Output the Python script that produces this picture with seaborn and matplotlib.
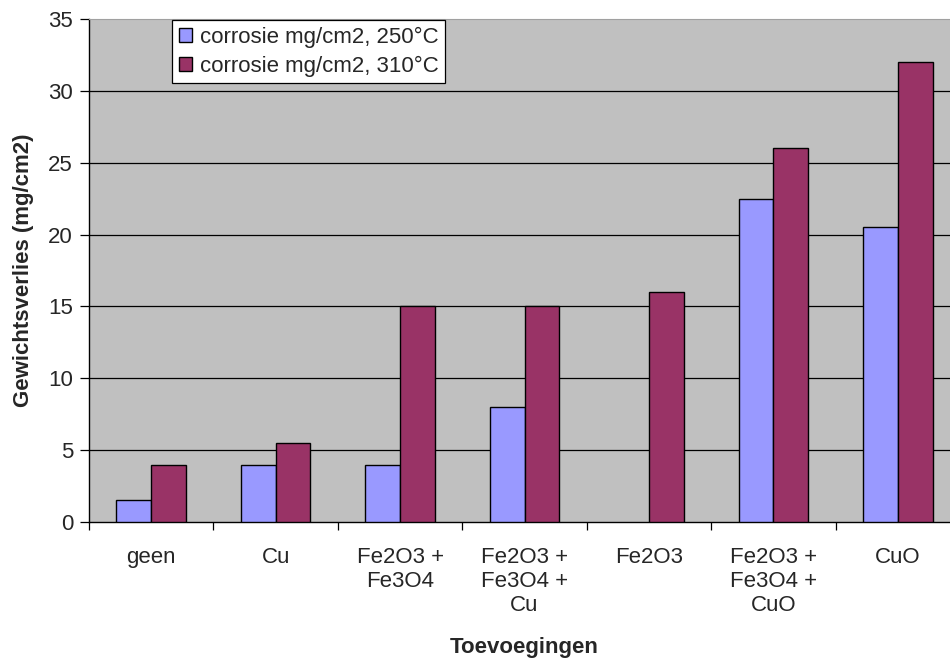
import pandas as pd
import numpy as np
import matplotlib
matplotlib.use("Agg")
import matplotlib.pyplot as plt
import seaborn as sns

# data
categories = ["geen", "Cu", "Fe2O3 +\nFe3O4", "Fe2O3 +\nFe3O4 +\nCu", "Fe2O3",
              "Fe2O3 +\nFe3O4 +\nCuO", "CuO"]
series_names = ["corrosie mg/cm2, 250°C", "corrosie mg/cm2, 310°C"]
vals_250 = [1.5, 4.0, 4.0, 8.0, np.nan, 22.5, 20.5]
vals_310 = [4.0, 5.5, 15.0, 15.0, 16.0, 26.0, 32.0]
y_ticks = [0, 5, 10, 15, 20, 25, 30, 35]

df = pd.DataFrame({
    "Toevoeging": categories * 2,
    "Serie": [series_names[0]] * len(categories) + [series_names[1]] * len(categories),
    "Waarde": vals_250 + vals_310,
})

sns.set_style("white")
plt.rcParams["font.family"] = ["Liberation Sans", "DejaVu Sans"]
fs = 16

fig = plt.figure(figsize=(9.5, 6.63), dpi=100)
ax = fig.add_axes([89 / 950, (663 - 522) / 663, 871 / 950, 503 / 663])
ax.set_facecolor("#C0C0C0")

palette = {series_names[0]: "#9999FF", series_names[1]: "#993366"}
sns.barplot(data=df, x="Toevoeging", y="Waarde", hue="Serie", order=categories,
            hue_order=series_names, palette=palette, width=0.56, gap=0,
            edgecolor="black", linewidth=1.0, saturation=1, ax=ax, zorder=3)

# gridlines
for v in y_ticks[1:-1]:
    ax.axhline(v, color="black", lw=0.9, zorder=1)

ax.set_ylim(0, 35)
ax.set_xlim(-0.5, len(categories) - 0.5)
ax.set_yticks(y_ticks)
ax.tick_params(axis="y", direction="out", length=6.5, width=0.9, labelsize=fs,
               pad=5, left=True, color="black")
ax.set_xticks(range(len(categories)))
ax.set_xticklabels(categories, fontsize=fs, linespacing=1.2, va="top")
ax.tick_params(axis="x", which="major", length=0, pad=18)
ax.set_xticks(np.arange(-0.5, len(categories) + 0.5, 1), minor=True)
ax.tick_params(axis="x", which="minor", direction="out", length=6, width=0.9,
               bottom=True, color="black")

for s in ["left", "bottom"]:
    ax.spines[s].set_color("black")
    ax.spines[s].set_linewidth(1.0)
ax.spines["top"].set_color("#A0A0A0")
ax.spines["right"].set_visible(False)

ax.set_ylabel("Gewichtsverlies (mg/cm2)", fontsize=fs, fontweight="bold", labelpad=10)
ax.set_xlabel("Toevoegingen", fontsize=fs, fontweight="bold", labelpad=15)

leg = ax.legend(loc="upper left", bbox_to_anchor=(82 / 871, 1.0), fontsize=fs,
                frameon=True, fancybox=False, edgecolor="black", framealpha=1,
                handlelength=0.6, handleheight=0.6, handletextpad=0.35,
                borderpad=0.3, labelspacing=0.35, borderaxespad=0.05)
leg.get_frame().set_linewidth(0.9)

fig.savefig("out.png", dpi=100)
